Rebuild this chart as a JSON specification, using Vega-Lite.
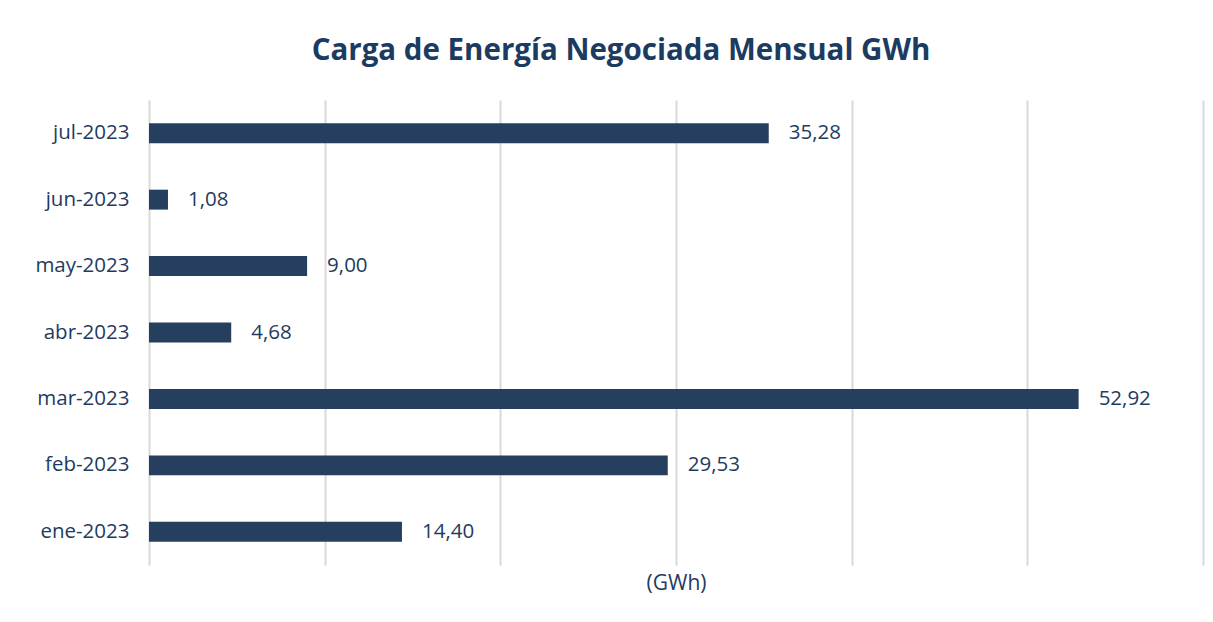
{
  "$schema": "https://vega.github.io/schema/vega-lite/v6.json",
  "width": 1054,
  "height": 465,
  "autosize": "none",
  "padding": {"left": 149, "top": 100, "right": 10, "bottom": 57},
  "background": "white",
  "title": {
    "text": "Carga de Energía Negociada Mensual GWh",
    "anchor": "middle",
    "dx": -55,
    "offset": 34,
    "fontSize": 29.5,
    "font": "Open Sans",
    "fontWeight": "bold",
    "color": "#1b3b61"
  },
  "config": {
    "view": {"stroke": null},
    "locale": {"number": {"decimal": ",", "thousands": ".", "grouping": [3], "currency": ["$", ""]}}
  },
  "data": {
    "values": [
      {"mes": "jul-2023", "gwh": 35.28},
      {"mes": "jun-2023", "gwh": 1.08},
      {"mes": "may-2023", "gwh": 9.00},
      {"mes": "abr-2023", "gwh": 4.68},
      {"mes": "mar-2023", "gwh": 52.92},
      {"mes": "feb-2023", "gwh": 29.53},
      {"mes": "ene-2023", "gwh": 14.40}
    ]
  },
  "encoding": {
    "y": {
      "field": "mes", "type": "nominal", "sort": null,
      "scale": {"paddingInner": 0.7, "paddingOuter": 0.35},
      "axis": {"title": null, "domain": false, "ticks": false, "labelPadding": 20, "labelFontSize": 20.5, "labelFont": "Open Sans", "labelColor": "#1f3b5e"}
    },
    "x": {
      "field": "gwh", "type": "quantitative",
      "scale": {"domain": [0, 60], "nice": false},
      "axis": {"title": "(GWh)", "titleFontSize": 21, "titleFont": "Open Sans", "titleFontWeight": "normal", "titleColor": "#1f3b5e", "titlePadding": 7, "labels": false, "ticks": false, "domain": false, "grid": true, "gridColor": "#d9d9d9", "gridWidth": 2, "values": [0, 10, 20, 30, 40, 50, 60]}
    }
  },
  "layer": [
    {"mark": {"type": "bar", "color": "#263f5f"}},
    {
      "mark": {"type": "text", "align": "left", "dx": 20, "fontSize": 20.5, "font": "Open Sans", "color": "#1f3b5e"},
      "encoding": {"text": {"field": "gwh", "type": "quantitative", "format": ".2f"}}
    }
  ]
}
